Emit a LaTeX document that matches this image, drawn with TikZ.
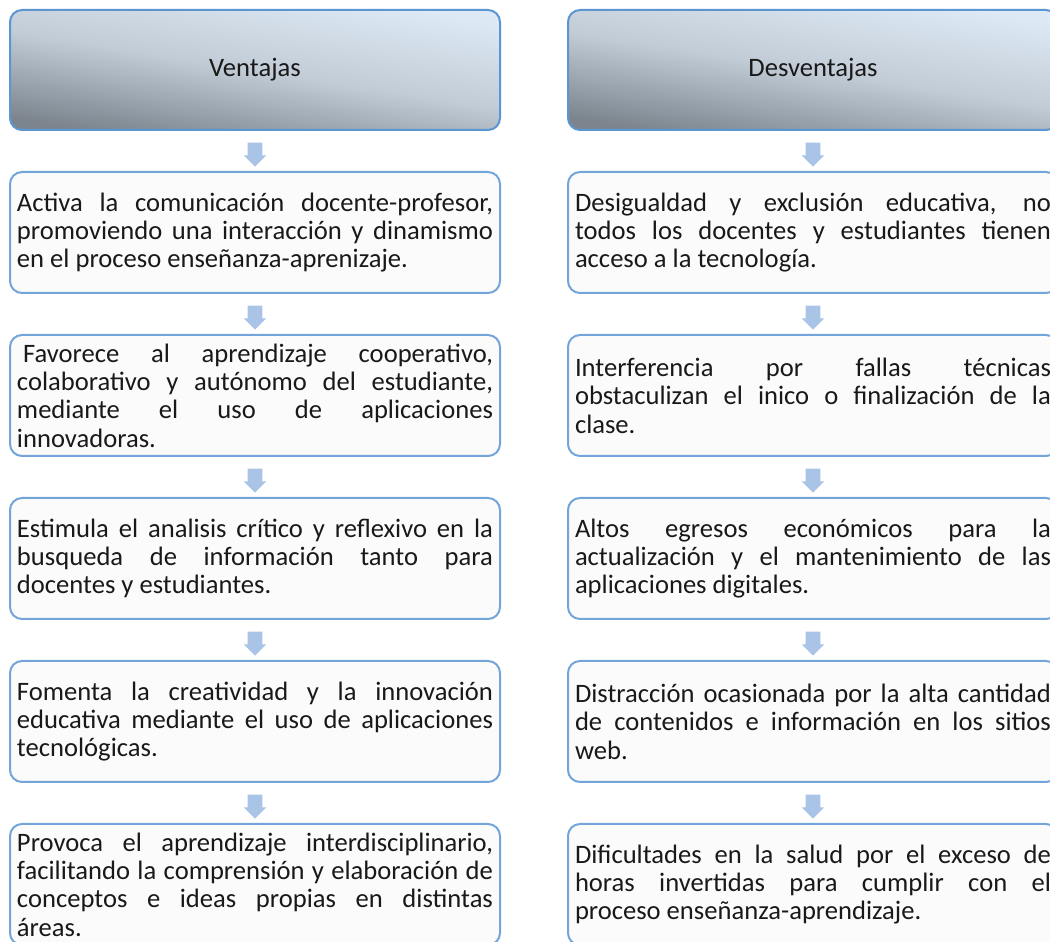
\documentclass[tikz,border=0pt]{standalone}
\usepackage{fontspec}
\setmainfont{Carlito}
\usetikzlibrary{shapes.arrows,calc}
\definecolor{borde}{RGB}{91,150,210}
\definecolor{bordecaja}{RGB}{115,165,218}
\definecolor{flechaazul}{RGB}{169,196,230}
\definecolor{claro}{RGB}{221,233,245}
\definecolor{medio}{RGB}{194,204,214}
\definecolor{oscuro}{RGB}{124,133,142}
\definecolor{fondo}{RGB}{251,251,251}
\definecolor{letra}{RGB}{25,25,25}
\newcommand{\texto}{\fontsize{13.3pt}{14.2pt}\selectfont\hyphenpenalty=10000}

\tikzset{
  titulo/.style={rectangle, rounded corners=6pt, draw=borde, line width=1pt,
    top color=claro, bottom color=oscuro, middle color=medio, shading angle=-9,
    minimum width=245pt, minimum height=60pt, font=\texto, text=letra},
  caja/.style={rectangle, rounded corners=6pt, draw=bordecaja, line width=1pt,
    fill=fondo, minimum width=245pt, minimum height=60.5pt, text width=238pt,
    inner xsep=3pt, align=justify, font=\texto, text=letra},
  flecha/.style={single arrow, rotate=-90, fill=flechaazul, draw=none,
    minimum height=12pt, minimum width=1pt, inner sep=3.5pt,
    single arrow head extend=2pt}
}

\begin{document}
\begin{tikzpicture}[x=0.5pt,y=0.5pt]
    \useasboundingbox (0,0) rectangle (1050,942);
    \clip (0,0) rectangle (1050,942);
    % columna izquierda
    \node[titulo] (ven) at (255,872) {Ventajas};
    \node[caja] (v1) at (255,709.5) {Activa la comunicación docente-profesor,\linebreak promoviendo una interacción y dinamismo\linebreak en el proceso enseñanza-aprenizaje.};
    \node[caja] (v2) at (255,546.5) {\hspace*{0.23em}Favorece al aprendizaje cooperativo,\linebreak colaborativo y autónomo del estudiante,\linebreak mediante el uso de aplicaciones\linebreak innovadoras.};
    \node[caja] (v3) at (255,383.5) {Estimula el analisis crítico y reflexivo en la\linebreak busqueda de información tanto para\linebreak docentes y estudiantes.};
    \node[caja] (v4) at (255,220.5) {Fomenta la creatividad y la innovación\linebreak educativa mediante el uso de aplicaciones\linebreak tecnológicas.};
    \node[caja] (v5) at (255,57.5) {Provoca el aprendizaje interdisciplinario,\linebreak facilitando la comprensión y elaboración de\linebreak conceptos e ideas propias en distintas\linebreak áreas.};
    % columna derecha
    \node[titulo] (des) at (813,872) {Desventajas};
    \node[caja] (d1) at (813,709.5) {Desigualdad y exclusión educativa, no\linebreak todos los docentes y estudiantes tienen\linebreak acceso a la tecnología.};
    \node[caja] (d2) at (813,546.5) {Interferencia por fallas técnicas\linebreak obstaculizan el inico o finalización de la\linebreak clase.};
    \node[caja] (d3) at (813,383.5) {Altos egresos económicos para la\linebreak actualización y el mantenimiento de las\linebreak aplicaciones digitales.};
    \node[caja] (d4) at (813,220.5) {Distracción ocasionada por la alta cantidad\linebreak de contenidos e información en los sitios\linebreak web.};
    \node[caja] (d5) at (813,57.5) {Dificultades en la salud por el exceso de\linebreak horas invertidas para cumplir con el\linebreak proceso enseñanza-aprendizaje.};
    % flechas
    \node[flecha] (fv1) at ($(ven.south)!.5!(v1.north)$) {};
    \node[flecha] (fv2) at ($(v1.south)!.5!(v2.north)$) {};
    \node[flecha] (fv3) at ($(v2.south)!.5!(v3.north)$) {};
    \node[flecha] (fv4) at ($(v3.south)!.5!(v4.north)$) {};
    \node[flecha] (fv5) at ($(v4.south)!.5!(v5.north)$) {};
    \node[flecha] (fd1) at ($(des.south)!.5!(d1.north)$) {};
    \node[flecha] (fd2) at ($(d1.south)!.5!(d2.north)$) {};
    \node[flecha] (fd3) at ($(d2.south)!.5!(d3.north)$) {};
    \node[flecha] (fd4) at ($(d3.south)!.5!(d4.north)$) {};
    \node[flecha] (fd5) at ($(d4.south)!.5!(d5.north)$) {};
\end{tikzpicture}
\end{document}
